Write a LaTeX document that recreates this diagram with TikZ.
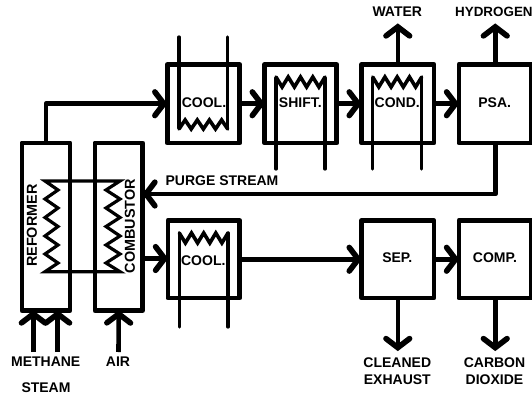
\documentclass[tikz,border=0pt]{standalone}
\usepackage{fontspec}
\setmainfont{Liberation Sans}
\usetikzlibrary{arrows.meta}
\pgfdeclarearrow{
  name=Chev,
  setup code={\pgfarrowssettipend{0pt}\pgfarrowssetlineend{-3pt}\pgfarrowssetbackend{-16pt}\pgfarrowssetvisualbackend{-3pt}\pgfarrowshullpoint{0pt}{0pt}\pgfarrowshullpoint{-16pt}{15pt}\pgfarrowshullpoint{-16pt}{-15pt}},
  drawing code={\pgfsetlinewidth{5.6pt}\pgfsetroundcap\pgfsetmiterjoin
    \pgfpathmoveto{\pgfqpoint{-12.4pt}{11.8pt}}\pgfpathlineto{\pgfqpoint{-3.4pt}{0pt}}\pgfpathlineto{\pgfqpoint{-12.4pt}{-11.8pt}}\pgfusepathqstroke}
}
\tikzset{
  proc/.style={draw=black,line width=4.9pt,line join=round,fill=white,inner sep=0pt,outer sep=0pt},
  lab/.style={font=\fontsize{14}{15}\selectfont\bfseries,inner sep=0pt,align=center},
  sidelab/.style={font=\fontsize{14.4}{15}\selectfont\bfseries,inner sep=0pt,rotate=90},
  flow/.style={line width=4.6pt,line join=round,-{Chev}},
  pipe/.style={line width=3.3pt,line cap=round},
  coil/.style={line width=3.6pt,line join=miter,line cap=round},
}
\begin{document}
\begin{tikzpicture}[x=1pt,y=-1pt]
\useasboundingbox (0,0) rectangle (532,398);
% boxes
\node[proc,minimum width=48pt,minimum height=167.5pt] (reformer) at (46,226.75) {};
\node[proc,minimum width=47.5pt,minimum height=167.5pt] (combustor) at (118.75,226.75) {};
\node[proc,minimum width=72.5pt,minimum height=78.5pt] (cool1) at (203.5,103.75) {};
\node[proc,minimum width=72pt,minimum height=78.5pt] (shift) at (300.7,103.75) {};
\node[proc,minimum width=72.3pt,minimum height=78.5pt] (cond) at (397.8,103.75) {};
\node[proc,minimum width=72.5pt,minimum height=78.5pt] (psa) at (495.25,103.75) {};
\node[proc,minimum width=71.7pt,minimum height=77.5pt] (cool2) at (203.85,259.25) {};
\node[proc,minimum width=72.3pt,minimum height=77.5pt] (sep) at (397.8,259.25) {};
\node[proc,minimum width=72.5pt,minimum height=77.5pt] (comp) at (495.25,259.25) {};
% pipes
\draw[pipe] (179,37) -- (179,128);
\draw[pipe] (227.7,37) -- (227.7,128);
\draw[pipe] (276,169) -- (276,78);
\draw[pipe] (325,169) -- (325,78);
\draw[pipe] (372.7,169) -- (372.7,78);
\draw[pipe] (421.7,169) -- (421.7,78);
\draw[pipe] (179.3,327) -- (179.3,233);
\draw[pipe] (228,327) -- (228,233);
% coils
\draw[coil] (179,129) -- (185.1,120) -- (191.2,129) -- (197.3,120) -- (203.4,129) -- (209.4,120) -- (215.5,129) -- (221.6,120) -- (227.7,129);
\draw[coil] (276,77) -- (282.1,87) -- (288.2,77) -- (294.4,87) -- (300.5,77) -- (306.6,87) -- (312.8,77) -- (318.9,87) -- (325,77);
\draw[coil] (372.7,77) -- (378.8,87) -- (384.9,77) -- (391.1,87) -- (397.2,77) -- (403.3,87) -- (409.5,77) -- (415.6,87) -- (421.7,77);
\draw[coil] (179.3,233) -- (185.4,243) -- (191.5,233) -- (197.6,243) -- (203.7,233) -- (209.8,243) -- (215.8,233) -- (221.9,243) -- (228,233);
\draw[coil,line width=3.2pt] (45,181) -- (58,190) -- (45,199) -- (58,208) -- (45,217.5) -- (58,226.5) -- (45,236) -- (58,245) -- (45,254) -- (58,263) -- (45,271.7) -- (120,271.7) -- (106,263) -- (120,254) -- (106,245) -- (120,236) -- (106,226.5) -- (120,217.5) -- (106,208) -- (120,199) -- (106,190) -- (120,181) -- cycle;
% connectors
\draw[flow] (reformer.north) |- (cool1.west);
\draw[flow] (cool1.east) -- (shift.west);
\draw[flow] (shift.east) -- (cond.west);
\draw[flow] (cond.east) -- (psa.west);
\draw[flow] (cond.north) -- (397.8,23.5) coordinate (waterend);
\draw[flow] (psa.north) -- (495.25,23.5) coordinate (hydrogenend);
\draw[flow] (psa.south) |- (combustor.east |- 0,194);
\draw[flow] (combustor.east |- 0,258.5) -- (cool2.west |- 0,258.5);
\draw[flow] (cool2.east) -- (sep.west);
\draw[flow] (sep.east) -- (comp.west);
\draw[flow] (sep.south) -- (397.8,351) coordinate (exhaustend);
\draw[flow] (comp.south) -- (495.25,351) coordinate (co2end);
\coordinate (methanestart) at (33.3,352);
\coordinate (steamstart) at (57.7,352);
\coordinate (airstart) at (118.5,352);
\draw[flow] (methanestart) -- (methanestart |- reformer.south);
\draw[flow] (steamstart) -- (steamstart |- reformer.south);
\draw[flow] (airstart) -- (combustor.south);
% labels
\node[sidelab] (reformertext) at (32,225.7) {REFORMER};
\node[sidelab] (combustortext) at (130,226) {COMBUSTOR};
\node[lab] (cool1text) at (204,103) {COOL.};
\node[lab] (shifttext) at (300.3,103) {SHIFT.};
\node[lab] (condtext) at (397.2,103) {COND.};
\node[lab] (psatext) at (494.7,103) {PSA.};
\node[lab] (cool2text) at (203.3,261) {COOL.};
\node[lab] (septext) at (397.3,258) {SEP.};
\node[lab] (comptext) at (495,258) {COMP.};
\node[lab] (methanetext) at (45.7,361.7) {METHANE};
\node[lab] (steamtext) at (46,388) {STEAM};
\node[lab] (airtext) at (118,361.7) {AIR};
\node[lab] (purgetext) at (222,180.7) {PURGE STREAM};
\node[lab] (watertext) at (397.3,12) {WATER};
\node[lab,font=\fontsize{13.4}{15}\selectfont\bfseries,anchor=west] (hydrogentext) at (455,12) {HYDROGEN};
\node[lab] (exhausttext) at (397.3,371) {CLEANED\\[2pt]EXHAUST};
\node[lab] (co2text) at (494.5,371) {CARBON\\[2pt]DIOXIDE};
\end{tikzpicture}
\end{document}
